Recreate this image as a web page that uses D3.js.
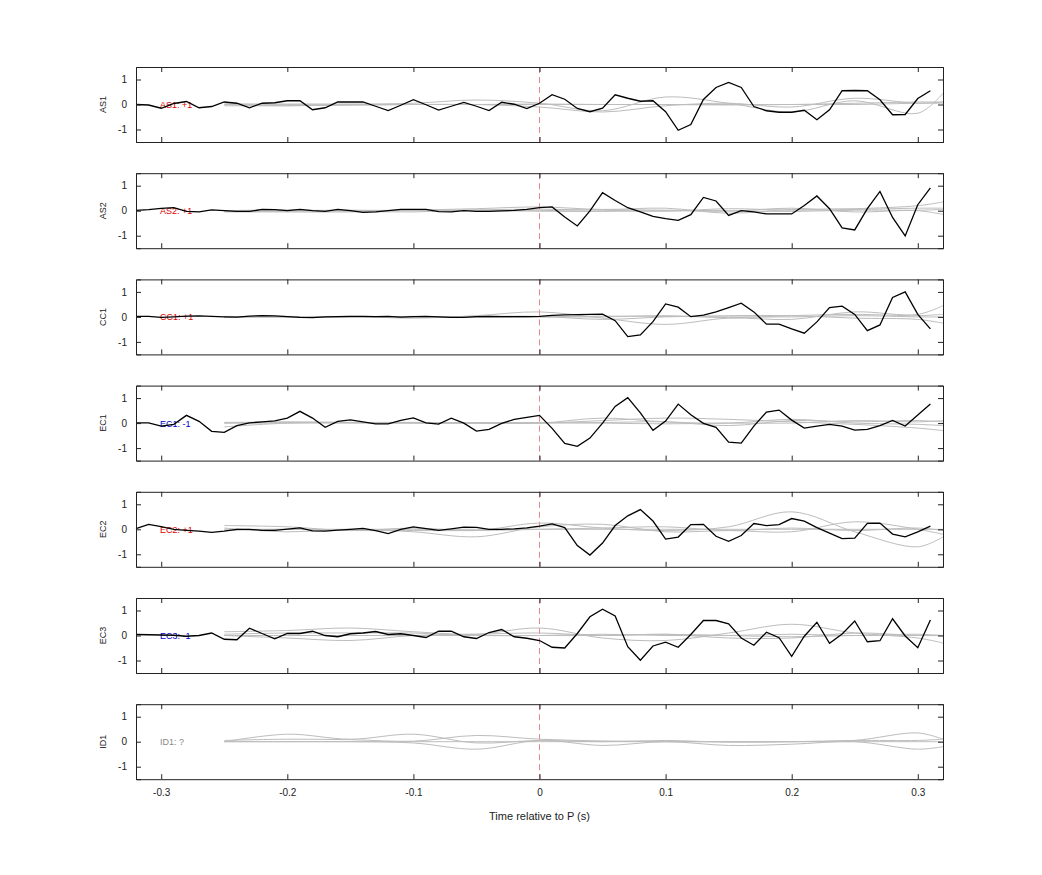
<!DOCTYPE html>
<html><head><meta charset="utf-8">
<script src="https://cdn.jsdelivr.net/npm/d3@7"></script>
<style>body{margin:0;background:#fff}text{font-family:"Liberation Sans",Arial,sans-serif}</style>
</head><body><svg id="c" width="1042" height="875"></svg>
<script>
const channels = ["AS1","AS2","CC1","EC1","EC2","EC3","ID1"];
const labels = ["AS1: +1","AS2: +1","CC1: +1","EC1: -1","EC2: +1","EC3: -1","ID1: ?"];
const labelColors = ["#d00","#d00","#d00","#00c","#d00","#00c","#888"];
const xTicks = [-0.3,-0.2,-0.1,0,0.1,0.2,0.3];
const yTicks = [-1,0,1];
const tBlack = d3.range(64).map(i => +(-0.32 + i*0.01).toFixed(2));
const AS1 = [0,-0.02,-0.15,0.04,0.12,-0.13,-0.08,0.1,0.05,-0.13,0.05,0.07,0.15,0.15,-0.21,-0.13,0.1,0.1,0.1,-0.07,-0.24,-0.03,0.19,-0.01,-0.22,-0.07,0.08,-0.07,-0.24,0.09,0.01,-0.16,0.05,0.39,0.21,-0.16,-0.29,-0.15,0.39,0.25,0.13,0.15,-0.29,-1.03,-0.8,0.2,0.68,0.88,0.68,-0.08,-0.25,-0.31,-0.31,-0.23,-0.61,-0.21,0.55,0.56,0.55,0.19,-0.41,-0.4,0.24,0.55];
const AS2 = [0.01,0.04,0.09,0.12,-0.03,-0.05,0.03,0,-0.03,-0.03,0.05,0.04,0,0.05,0,-0.03,0.05,0,-0.07,-0.05,0,0.05,0.05,0.05,-0.04,-0.05,0,-0.03,-0.03,-0.01,0.01,0.05,0.12,0.15,-0.25,-0.61,-0.01,0.72,0.41,0.12,-0.05,-0.23,-0.32,-0.39,-0.16,0.53,0.39,-0.19,0,-0.05,-0.13,-0.13,-0.13,0.21,0.59,0.08,-0.69,-0.77,0.08,0.77,-0.27,-1.01,0.24,0.91];
const CC1 = [0.02,0.02,-0.02,0,0.03,0.04,0.02,0,-0.01,0.03,0.05,0.04,0.01,-0.02,-0.03,0,0.01,0.02,0.02,0.01,0.02,-0.01,0.01,0.02,0,-0.02,-0.02,0.01,0.02,0.01,0.01,0.01,0.02,0.06,0.08,0.09,0.1,0.11,-0.15,-0.79,-0.72,-0.19,0.52,0.39,0.01,0.07,0.2,0.37,0.55,0.2,-0.29,-0.29,-0.48,-0.65,-0.2,0.37,0.43,0.1,-0.55,-0.32,0.78,1.0,0.1,-0.48];
const EC1 = [0.01,0.01,-0.12,-0.05,0.31,0.07,-0.33,-0.37,-0.1,0.01,0.05,0.09,0.2,0.47,0.2,-0.17,0.07,0.13,0.05,-0.03,-0.03,0.11,0.21,0.01,-0.04,0.2,0,-0.32,-0.25,-0.01,0.15,0.23,0.31,-0.21,-0.81,-0.93,-0.6,0,0.67,1.02,0.41,-0.29,0.08,0.76,0.33,-0.01,-0.17,-0.76,-0.8,-0.12,0.44,0.52,0.12,-0.2,-0.12,-0.05,-0.12,-0.28,-0.25,-0.1,0.11,-0.12,0.32,0.76];
const EC2 = [0.03,0.2,0.11,0,-0.04,-0.07,-0.12,-0.07,0,0,-0.04,-0.04,0.01,0.06,-0.06,-0.07,-0.03,0,0.04,-0.05,-0.17,0,0.1,0.03,-0.04,0.02,0.09,0.08,0,0,0.02,0.06,0.13,0.22,0.07,-0.65,-1.03,-0.55,0.15,0.54,0.79,0.33,-0.39,-0.31,0.19,0.2,-0.28,-0.48,-0.25,0.23,0.15,0.19,0.43,0.33,0.07,-0.15,-0.37,-0.35,0.24,0.25,-0.19,-0.3,-0.1,0.13];
const EC3 = [0.04,0.03,0.02,0.01,-0.03,0,0.1,-0.15,-0.17,0.29,0.08,-0.13,0.08,0.08,0.17,0,-0.05,0.07,0.1,0.16,0.04,0.07,0,-0.08,0.17,0.17,-0.05,-0.12,0.12,0.24,-0.05,-0.11,-0.2,-0.47,-0.5,0.08,0.75,1.05,0.78,-0.45,-0.99,-0.42,-0.27,-0.47,0.04,0.6,0.6,0.47,-0.1,-0.39,0.13,-0.09,-0.83,-0.03,0.53,-0.31,0.06,0.58,-0.25,-0.21,0.67,-0.02,-0.49,0.62];
const ID1 = null;
const blackSeries = [AS1,AS2,CC1,EC1,EC2,EC3,ID1];
const tGrey = [-0.25,-0.2,-0.15,-0.1,-0.05,0,0.05,0.1,0.15,0.2,0.25,0.3,0.32];
const greyAS1 = [[0,-0.05,0,0.05,0.18,0.05,-0.25,0.3,0.05,-0.3,0.15,-0.35,0.45],[-0.05,-0.05,-0.02,0,0,-0.1,-0.3,-0.05,0.05,-0.1,0.25,0.05,0.1],[0,0.02,0.02,0,0,0,0,0,0,0,0.05,0.1,0.1],[0.03,0,-0.02,0,0,0.02,0,0,-0.02,0,0,0.05,0.05]];
const greyAS2 = [[-0.05,-0.05,-0.05,0.02,0.08,0.15,0.05,0.1,-0.1,0.05,0.08,0.2,0.35],[0,0.03,-0.02,-0.05,0.03,0.06,0.02,-0.02,0.08,0.02,0.05,0.1,0.1],[0,-0.02,0,0.02,0.02,-0.02,-0.03,0,-0.02,0.1,-0.05,0,-0.15],[-0.03,0,0.02,0,0,0,0.04,0.02,0,-0.03,0.02,0.02,0.05]];
const greyCC1 = [[0,0,0.02,-0.05,0.05,0.2,-0.05,-0.3,-0.05,-0.1,0.2,0.1,0.45],[-0.02,0,-0.02,0,0.02,0.02,-0.1,0,0.05,0.05,-0.05,-0.1,-0.25],[0,0.02,0,0.02,-0.02,0,0.03,0.02,0,0,0.05,0,0],[0.02,0,0,0,0,0,0,0.05,-0.03,0.05,0.1,0.05,0.1]];
const greyEC1 = [[0,0.05,0.03,0,0,0,0.1,0.2,0.15,0.05,-0.05,-0.2,-0.3],[-0.15,0,0.02,0.03,0,0,0.02,0.05,-0.1,0.1,0.05,0.1,0.05],[0.03,0.03,0,0,0,0,0.2,0.05,0,0.15,0,-0.05,-0.1],[0,0,0.02,0.02,0.02,0.02,0,-0.03,0,0,0.1,0.05,0.1]];
const greyEC2 = [[0.15,0.1,-0.05,0.05,-0.05,0.25,0.05,-0.05,0.1,0.7,-0.1,-0.7,-0.3],[0.05,-0.1,0,-0.1,-0.3,0.1,0.2,-0.1,-0.05,-0.1,0.3,0,-0.2],[-0.05,0,-0.05,-0.05,-0.05,0,0.05,0.1,-0.05,0.05,-0.05,0.05,-0.05],[0,0,0,0,0,0,0,0,0,0,0,0,0]];
const greyEC3 = [[0.15,0.2,0.3,0.15,0.05,0.3,-0.1,-0.2,0.1,0.45,0.1,-0.1,-0.3],[0,-0.1,-0.2,0,0.05,0.1,0,0.05,-0.1,-0.1,0.1,0,0],[0.05,0.1,0.1,0.1,0,0,0,0.05,0,-0.05,0,0,0],[0,0,0,0,0,0,0.05,0,0,0.05,0,0.05,0]];
const greyID1 = [[0,0.3,0.1,0.3,-0.05,0.05,0,0.05,-0.02,0,0.05,0.35,0.1],[0,0,0,-0.05,-0.3,0.05,-0.15,0,-0.15,-0.1,0,-0.3,-0.2],[0.05,0.1,0.08,0.02,0.25,0.1,0.03,0,0,0,0.05,0.05,0.1],[0,0,0,0,0,0,0,0,0,0,0,0,0]];
const greySeries = [greyAS1,greyAS2,greyCC1,greyEC1,greyEC2,greyEC3,greyID1];

const svg = d3.select("#c");
const L=136,R=943,H=75,step=106.2,top0=67;
const fmt = v => String(v);
const x = d3.scaleLinear().domain([-0.32,0.32]).range([L,R]);
channels.forEach((ch,i)=>{
  const t0 = top0 + i*step;
  const y = d3.scaleLinear().domain([-1.5,1.5]).range([t0+H,t0]);
  const g = svg.append("g");
  g.append("line").attr("x1",x(0)).attr("x2",x(0)).attr("y1",t0).attr("y2",t0+H)
    .attr("stroke","#e06a6a").attr("stroke-width",0.8).attr("stroke-dasharray","6,4");
  const lg = d3.line().x((d,k)=>x(tGrey[k])).y(d=>y(d)).curve(d3.curveCatmullRom);
  greySeries[i].forEach(s=>g.append("path").attr("d",lg(s)).attr("fill","none").attr("stroke","#bdbdbd").attr("stroke-width",1));
  g.append("text").attr("x",160).attr("y",y(0)+3.5).attr("font-size",9).attr("fill",labelColors[i]).text(labels[i]);
  if(blackSeries[i]){
    const lb = d3.line().x((d,k)=>x(tBlack[k])).y(d=>y(d));
    g.append("path").attr("d",lb(blackSeries[i])).attr("fill","none").attr("stroke","#000").attr("stroke-width",1.3);
  }
  g.append("g").attr("transform",`translate(0,${t0+H})`).call(d3.axisBottom(x).tickValues(xTicks).tickSize(-5).tickFormat(i===6?fmt:()=>"").tickPadding(10));
  g.append("g").attr("transform",`translate(0,${t0})`).call(d3.axisTop(x).tickValues(xTicks).tickSize(-5).tickFormat(""));
  g.append("g").attr("transform",`translate(${L},0)`).call(d3.axisLeft(y).tickValues(yTicks).tickSize(-5).tickFormat(fmt).tickPadding(9));
  g.append("g").attr("transform",`translate(${R},0)`).call(d3.axisRight(y).tickValues(yTicks).tickSize(-5).tickFormat(""));
  g.selectAll(".domain").attr("stroke","#222");
  g.selectAll(".tick line").attr("stroke","#222");
  g.selectAll(".tick text").attr("font-size",10).attr("fill","#222").attr("font-family","Liberation Sans, Arial");
  g.append("text").attr("transform",`translate(106,${y(0)}) rotate(-90)`).attr("text-anchor","middle")
    .attr("font-size",9).attr("fill","#222").text(ch);
});
svg.append("text").attr("x",x(0)).attr("y",820).attr("text-anchor","middle").attr("font-size",11).attr("fill","#222").text("Time relative to P (s)");
</script></body></html>
